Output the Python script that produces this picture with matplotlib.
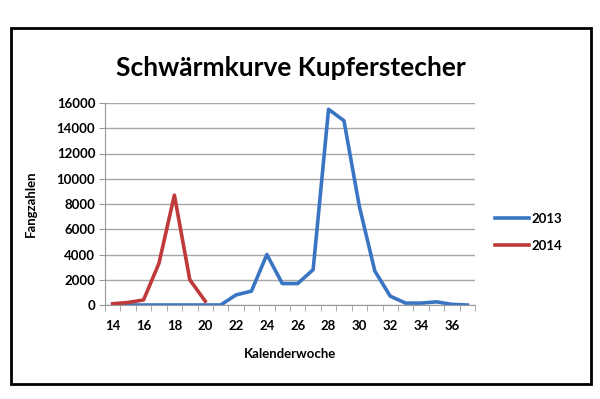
import matplotlib
matplotlib.use("Agg")
import matplotlib.pyplot as plt
from matplotlib.patches import Rectangle

plt.rcParams['font.family'] = ['Lato', 'DejaVu Sans']

weeks = list(range(14, 38))
fang_2013 = [0, 0, 0, 0, 0, 0, 0, 0, 800, 1100, 4000, 1700, 1700, 2800,
             15500, 14600, 7800, 2700, 700, 150, 150, 250, 50, 0]
weeks_2014 = list(range(14, 21))
fang_2014 = [100, 200, 400, 3300, 8700, 2000, 300]
tick_labels = [str(w) for w in range(14, 38, 2)]

fig = plt.figure(figsize=(6, 3.99), dpi=100)
ax = fig.add_axes([105 / 600, 1 - 305 / 399, 370 / 600, 202 / 399])

x13 = [w - 14 for w in weeks]
x14 = [w - 14 for w in weeks_2014]
ax.plot(x13, fang_2013, color='#3a75c4', linewidth=2.6, label='2013')
ax.plot(x14, fang_2014, color='#c0393b', linewidth=2.6, label='2014')

ax.set_xlim(-0.5, len(weeks) - 0.5)
ax.set_ylim(0, 16000)
ax.set_yticks(range(0, 16001, 2000))
ax.set_yticklabels([str(v) for v in range(0, 16001, 2000)], fontsize=9.5, fontweight='bold')
ax.set_xticks(range(0, len(weeks), 2))
ax.set_xticklabels(tick_labels, fontsize=9.5, fontweight='bold')
ax.set_xticks([i - 0.5 for i in range(len(weeks) + 1)], minor=True)
ax.tick_params(axis='x', which='major', length=0, pad=11)
ax.tick_params(axis='x', which='minor', length=4, color='#999999')
ax.tick_params(axis='y', length=4, color='#999999', pad=3)
ax.grid(axis='y', color='#a6a6a6', linewidth=1)
ax.set_axisbelow(True)
for s in ['top', 'right']:
    ax.spines[s].set_visible(False)
ax.spines['left'].set_color('#999999')
ax.spines['bottom'].set_color('#999999')

ax.set_xlabel('Kalenderwoche', fontsize=9.5, fontweight='bold', labelpad=11)
ax.set_ylabel('Fangzahlen', fontsize=9.5, fontweight='bold', labelpad=14)
fig.text(0.485, 1 - 68 / 399, 'Schwärmkurve Kupferstecher', ha='center', va='center',
         fontsize=19, fontweight='bold')

ax.legend(loc='center left', bbox_to_anchor=(1.022, 0.36), frameon=False,
          handlelength=2.6, labelspacing=1.1, handletextpad=0.2,
          prop={'weight': 'bold', 'size': 9.5})

fig.patches.append(Rectangle((11 / 600, 1 - 384 / 399), 580 / 600, 356 / 399,
                             transform=fig.transFigure, fill=False,
                             edgecolor='black', linewidth=2))

fig.savefig('out.png', dpi=100)
